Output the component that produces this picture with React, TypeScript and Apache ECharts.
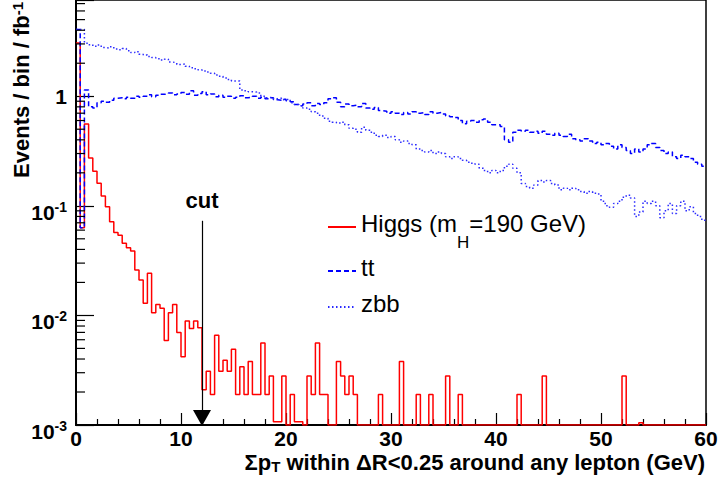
import React, { useEffect, useRef } from 'react';
import * as echarts from 'echarts';

// ---- axis settings ----
const BIN_WIDTH = 0.4; // GeV per bin
const X_MIN = 0;
const X_MAX = 60;
const X_INTERVAL = 10;
const Y_MIN = 0.001;
const Y_MAX = 7.55;
const CUT_VALUE = 12;
const CUT_TOP = 0.073;
const CUT_TIP = 0.00116;
const LEGEND_NAMES = ['Higgs', 'tt', 'zbb'];

// ---- histogram contents (events / bin / fb^-1), 150 bins of 0.4 GeV ----
const higgs = [
  3.06, 0.063, 0.557, 0.273, 0.207, 0.161, 0.123, 0.098, 0.0716, 0.057,
  0.054, 0.0455, 0.0415, 0.0387, 0.026, 0.021, 0.0129, 0.0242, 0.0106, 0.0126,
  0.0116, 0.0059, 0.0106, 0.0126, 0.007, 0.0042, 0.0089, 0.0076, 0.0089, 0.0077,
  0.0021, 0.0031, 0.0019, 0.0066, 0.0031, 0.0039, 0.0031, 0.0049, 0.0019, 0.0034,
  0.0019, 0.0038, 0.0019, 0.0019, 0.0056, 0.0019, 0.0028, 0.00107, 0.00107, 0.0028,
  0, 0.0019, 0.00107, 0.00107, 0, 0.0028, 0.0019, 0.0056, 0.0019, 0.0019,
  0, 0, 0.0038, 0.0028, 0.0019, 0.0028, 0.0019, 0, 0, 0,
  0, 0, 0.0019, 0, 0, 0, 0, 0.0038, 0, 0,
  0, 0.0019, 0, 0, 0.0019, 0, 0, 0, 0.0028, 0,
  0, 0.0019, 0, 0, 0, 0, 0, 0, 0, 0,
  0, 0, 0, 0, 0, 0.0019, 0, 0, 0, 0,
  0, 0.0028, 0, 0, 0, 0, 0, 0, 0, 0,
  0, 0, 0, 0, 0, 0, 0, 0, 0, 0,
  0.0028, 0, 0, 0, 0.00105, 0, 0, 0, 0, 0,
  0, 0, 0, 0, 0, 0, 0, 0, 0, 0,
];

const ttbar = [
  4.07, 0.063, 1.14, 0.8, 0.78, 0.87, 0.9, 0.88, 0.92, 0.96,
  0.97, 0.95, 0.98, 0.96, 1.0, 0.98, 1.0, 1.03, 0.99, 1.02,
  1.04, 1.05, 1.07, 1.03, 1.05, 1.08, 1.04, 1.12, 1.02, 1.06,
  1.1, 1.03, 1.05, 0.99, 1.02, 0.98, 1.0, 0.96, 0.98, 1.01,
  0.97, 0.98, 1.0, 0.96, 0.98, 0.95, 0.97, 0.93, 0.92, 0.94,
  0.91, 0.89, 0.84, 0.82, 0.85, 0.87, 0.82, 0.86, 0.84, 0.87,
  0.95, 0.97, 0.88, 0.8, 0.85, 0.82, 0.83, 0.8, 0.86, 0.78,
  0.76, 0.79, 0.74, 0.73, 0.7, 0.72, 0.7, 0.68, 0.71, 0.69,
  0.72, 0.7, 0.71, 0.68, 0.72, 0.7, 0.71, 0.69, 0.66, 0.65,
  0.64, 0.6, 0.56, 0.59, 0.6, 0.58, 0.61, 0.62, 0.58, 0.55,
  0.55, 0.53, 0.4, 0.38, 0.47, 0.49, 0.48, 0.49, 0.47, 0.48,
  0.46, 0.48, 0.45, 0.44, 0.46, 0.44, 0.43, 0.45, 0.41, 0.4,
  0.39, 0.41, 0.39, 0.37, 0.38, 0.36, 0.37, 0.35, 0.33, 0.36,
  0.34, 0.32, 0.3, 0.33, 0.31, 0.33, 0.36, 0.37, 0.34, 0.32,
  0.3, 0.31, 0.28, 0.27, 0.29, 0.28, 0.27, 0.25, 0.24, 0.23,
];

const zbb = [
  4.07, 4.07, 3.05, 2.95, 2.85, 2.93, 2.78, 2.75, 2.82, 2.7,
  2.66, 2.72, 2.6, 2.5, 2.55, 2.42, 2.38, 2.3, 2.25, 2.2,
  2.14, 2.18, 2.05, 2.02, 1.95, 1.97, 1.88, 1.82, 1.78, 1.74,
  1.7, 1.66, 1.62, 1.56, 1.52, 1.47, 1.42, 1.38, 1.38, 1.14,
  1.12, 1.1, 1.09, 1.07, 1.0, 0.97, 0.98, 0.95, 0.96, 0.93,
  0.94, 0.87, 0.84, 0.82, 0.78, 0.76, 0.72, 0.7, 0.66, 0.63,
  0.59, 0.58, 0.57, 0.58, 0.55, 0.51, 0.5, 0.47, 0.52, 0.49,
  0.47, 0.44, 0.43, 0.44, 0.42, 0.43, 0.4, 0.38, 0.39, 0.37,
  0.36, 0.33, 0.32, 0.31, 0.32, 0.3, 0.31, 0.3, 0.28, 0.27,
  0.28, 0.27, 0.26, 0.25, 0.245, 0.24, 0.22, 0.21, 0.2, 0.21,
  0.2, 0.21, 0.23, 0.24, 0.22, 0.2, 0.16, 0.15, 0.145, 0.155,
  0.17, 0.165, 0.17, 0.16, 0.155, 0.14, 0.145, 0.14, 0.145, 0.14,
  0.135, 0.13, 0.135, 0.13, 0.128, 0.11, 0.1, 0.097, 0.105, 0.11,
  0.12, 0.125, 0.118, 0.08, 0.088, 0.11, 0.105, 0.11, 0.1, 0.078,
  0.09, 0.105, 0.085, 0.1, 0.11, 0.09, 0.098, 0.085, 0.08, 0.074,
];

const FONT = "'Liberation Sans', Arial, Helvetica, sans-serif";

// histogram -> step points at bin edges (empty bins sit on the axis floor)
const toSteps = (vals: number[]) => {
  const floor = (v: number) => (v > 0 ? v : Y_MIN);
  const pts = vals.map((v, i) => [i * BIN_WIDTH, floor(v)]);
  pts.push([vals.length * BIN_WIDTH, floor(vals[vals.length - 1])]);
  return pts;
};

// minor log ticks 2..9 per decade
const minorTickValues: number[] = [];
for (let e = -3; e <= 0; e++) {
  for (let m = 2; m <= 9; m++) {
    const v = m * Math.pow(10, e);
    if (v < Y_MAX) minorTickValues.push(v);
  }
}

const yLabel = (value: number) => {
  const lg = Math.log10(value);
  const e = Math.round(lg);
  if (Math.abs(lg - e) > 1e-6) return '';
  if (e === 0) return '{one|1}';
  return `{b|10}{sup|${e}}`;
};

const legendText = {
  fontFamily: FONT, fontSize: 24, color: '#000', lineHeight: 32,
  rich: {
    n: { fontFamily: FONT, fontSize: 24, color: '#000', lineHeight: 32, verticalAlign: 'top' },
    s: { fontFamily: FONT, fontSize: 17, color: '#000', lineHeight: 10, padding: [23, 0, 0, 0], verticalAlign: 'top' },
  },
};

const legendTops = [211, 255, 291];

export default function App() {
  const ref = useRef<HTMLDivElement>(null);
  useEffect(() => {
    if (!ref.current) return;
    const chart = echarts.init(ref.current, null, { renderer: 'svg' });
    const option: any = {
      animation: false,
      backgroundColor: '#fff',
      grid: {
        left: 76, right: 12, top: 0, bottom: 59,
        show: true, borderColor: '#000', borderWidth: 1.5,
        containLabel: false, outerBoundsMode: 'none',
      },
      legend: LEGEND_NAMES.map((name, i) => ({
        data: [name],
        orient: 'vertical',
        left: 327,
        top: legendTops[i],
        padding: 0,
        itemWidth: 28,
        itemHeight: 14,
        selectedMode: false,
        itemStyle: { color: 'rgba(0,0,0,0)', borderColor: 'rgba(0,0,0,0)', borderWidth: 0 },
        formatter: (n: string) =>
          n === 'Higgs' ? '{n|Higgs (m}{s|H}{n|=190 GeV)}' : `{n|${n}}`,
        textStyle: legendText,
      })),
      xAxis: {
        type: 'value',
        min: X_MIN, max: X_MAX, interval: X_INTERVAL,
        axisLine: { show: true, onZero: false, lineStyle: { color: '#000', width: 2 } },
        axisTick: { show: true, inside: true, length: 12, lineStyle: { color: '#000', width: 1.2 } },
        minorTick: { show: true, splitNumber: 5, length: 6, lineStyle: { color: '#000', width: 1.2 } },
        splitLine: { show: false },
        axisLabel: { fontFamily: FONT, fontSize: 21, fontWeight: 'bold', color: '#000', margin: 4, lineHeight: 18 },
      },
      yAxis: {
        type: 'log',
        logBase: 10,
        min: Y_MIN, max: Y_MAX,
        axisLine: { show: true, onZero: false, lineStyle: { color: '#000', width: 2 } },
        axisTick: { show: true, inside: true, length: 18, lineStyle: { color: '#000', width: 1.2 } },
        splitLine: { show: false },
        axisLabel: {
          margin: 9,
          padding: [0, 0, 14, 0],
          formatter: yLabel,
          rich: {
            one: { fontFamily: FONT, fontSize: 21, fontWeight: 'bold', color: '#000', lineHeight: 22, padding: [8, 0, 0, 0], verticalAlign: 'top' },
            b: { fontFamily: FONT, fontSize: 21, fontWeight: 'bold', color: '#000', lineHeight: 22, padding: [14, 0, 0, 0], verticalAlign: 'top' },
            sup: { fontFamily: FONT, fontSize: 14, fontWeight: 'bold', color: '#000', lineHeight: 12, padding: [12, 0, 0, 0], verticalAlign: 'top' },
          },
        },
      },
      graphic: [
        {
          type: 'text',
          x: 23,
          y: 2,
          rotation: Math.PI / 2,
          silent: true,
          style: {
            text: '{m|Events / bin / fb}{s|-1}',
            align: 'right',
            verticalAlign: 'middle',
            fill: '#000',
            rich: {
              m: { fontFamily: FONT, fontSize: 22, fontWeight: 'bold', fill: '#000', lineHeight: 26, verticalAlign: 'top' },
              s: { fontFamily: FONT, fontSize: 15, fontWeight: 'bold', fill: '#000', lineHeight: 10, verticalAlign: 'top' },
            },
          },
        },
        {
          type: 'text',
          x: 705,
          y: 460,
          silent: true,
          style: {
            text: '{m|Σp}{s|T}{m| within ΔR<0.25 around any lepton (GeV)}',
            align: 'right',
            verticalAlign: 'middle',
            fill: '#000',
            rich: {
              m: { fontFamily: FONT, fontSize: 22, fontWeight: 'bold', fill: '#000', lineHeight: 18, verticalAlign: 'top' },
              s: { fontFamily: FONT, fontSize: 15, fontWeight: 'bold', fill: '#000', lineHeight: 10, padding: [8, 0, 0, 0], verticalAlign: 'top' },
            },
          },
        },
      ],
      series: [
        {
          name: 'Higgs',
          type: 'line',
          step: 'end',
          symbol: 'none',
          showSymbol: false,
          silent: true,
          data: toSteps(higgs),
          lineStyle: { color: '#ff0000', width: 1.5, type: 'solid' },
          itemStyle: { color: '#ff0000' },
          z: 3,
          markLine: {
            silent: true,
            animation: false,
            symbol: ['none', 'triangle'],
            symbolSize: [18, 16],
            lineStyle: { color: '#000', width: 1.2, type: 'solid' },
            itemStyle: { color: '#000' },
            label: {
              show: true, position: 'start', formatter: 'cut', distance: 9,
              fontFamily: FONT, fontSize: 22, fontWeight: 'bold', color: '#000',
            },
            emphasis: { disabled: true },
            data: [[{ coord: [CUT_VALUE, CUT_TOP] }, { coord: [CUT_VALUE, CUT_TIP] }]],
          },
        },
        {
          name: 'tt',
          type: 'line',
          step: 'end',
          symbol: 'none',
          showSymbol: false,
          silent: true,
          data: toSteps(ttbar),
          lineStyle: { color: '#0000ff', width: 1.5, type: [5, 3] },
          itemStyle: { color: '#0000ff' },
          z: 4,
        },
        {
          name: 'zbb',
          type: 'line',
          step: 'end',
          symbol: 'none',
          showSymbol: false,
          silent: true,
          data: toSteps(zbb),
          lineStyle: { color: '#2a2aff', width: 1.5, type: [1.5, 2.5] },
          itemStyle: { color: '#2a2aff' },
          z: 4,
        },
        {
          name: 'yMinorTicks',
          type: 'custom',
          silent: true,
          clip: false,
          z: 5,
          data: minorTickValues.map((v) => [X_MIN, v]),
          renderItem: (_params: any, api: any) => {
            const p = api.coord([api.value(0), api.value(1)]);
            return {
              type: 'line',
              shape: { x1: p[0], y1: p[1], x2: p[0] + 9, y2: p[1] },
              style: { stroke: '#000', lineWidth: 1.2 },
            };
          },
        },
      ],
    };
    chart.setOption(option);
    return () => chart.dispose();
  }, []);
  return (
    <div
      ref={ref}
      style={{ position: 'absolute', left: 0, top: 0, width: 718, height: 484 }}
    />
  );
}
